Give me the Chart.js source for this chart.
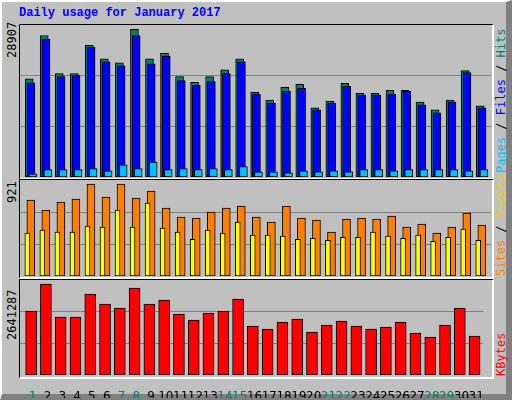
<!DOCTYPE html>
<html><head><meta charset="utf-8">
<script src="https://cdn.jsdelivr.net/npm/chart.js@4"></script>
<style>
body{margin:0;background:#c0c0c0;}
#wrap{position:relative;width:512px;height:400px;background:#c0c0c0;overflow:hidden;font-family:"DejaVu Sans Mono",monospace;}
#frame{position:absolute;left:0;top:0;width:504px;height:392px;border-left:2px solid #fff;border-top:2px solid #fff;border-right:6px solid #808080;border-bottom:6px solid #808080;box-sizing:border-box;width:512px;height:400px;}
.panel{position:absolute;left:19px;width:472px;border:1px solid #000;border-right:2px solid #fff;border-bottom:2px solid #fff;box-sizing:content-box;}
canvas{position:absolute;}
.vl{position:absolute;transform-origin:0 0;transform:rotate(-90deg);white-space:nowrap;font-size:12px;}
#title{position:absolute;left:19px;top:6px;font:bold 12px "Liberation Mono","DejaVu Sans Mono",monospace;color:#0000ff;}
</style></head><body>
<div id="wrap">
<div id="frame"></div>
<div id="title">Daily usage for January 2017</div>
<div class="panel" style="top:24px;height:153px"></div>
<div class="panel" style="top:179px;height:97px"></div>
<div class="panel" style="top:279px;height:97px"></div>
<canvas id="c1" width="471" height="152" style="left:20px;top:25px"></canvas>
<canvas id="c2" width="471" height="96" style="left:20px;top:180px"></canvas>
<canvas id="c3" width="471" height="118" style="left:20px;top:280px"></canvas>
<div class="vl" style="left:5px;top:58px">28907</div>
<div class="vl" style="left:5px;top:203px">921</div>
<div class="vl" style="left:5px;top:340px">2641287</div>
<div class="vl" style="left:494px;top:173px"><span style="color:#00c0ff">Pages</span> / <span style="color:#0000ff">Files</span> / <span style="color:#008060">Hits</span></div>
<div class="vl" style="left:494px;top:276px"><span style="color:#ff8000">Sites</span> / <span style="color:#e8d000">Visits</span></div>
<div class="vl" style="left:494px;top:376px"><span style="color:#ff0000">KBytes</span></div>
</div>
<script>
const days=[1,2,3,4,5,6,7,8,9,10,11,12,13,14,15,16,17,18,19,20,21,22,23,24,25,26,27,28,29,30,31];
const weekend=[1,7,8,14,15,21,22,28,29];
const hits=[19200,27700,20240,20240,25790,23110,22340,28907,23110,24250,19660,18510,19660,20990,23110,16600,15070,17550,18130,13530,14870,18320,16400,16400,16980,16980,14680,13150,15070,20810,13920];
const files=[18440,26930,19660,19850,25400,22530,21770,27700,22150,23680,18890,17940,18700,20240,22530,16210,14490,16790,17360,13150,14490,17750,16020,16020,16210,16790,14110,12580,14680,20430,13530];
const pages=[630,1470,1470,1470,1660,1200,2360,1660,2930,1470,1660,1470,1660,1470,2050,1020,1020,830,1200,1020,1200,1020,1470,1470,1200,1470,1470,1470,1470,1200,1470];
const visits=[760,660,740,770,921,790,921,780,851,680,589,579,640,680,700,589,539,700,579,559,439,569,579,569,600,489,519,429,489,630,509];
const sites=[429,459,439,439,499,489,660,489,730,479,439,368,459,429,539,409,409,399,368,378,358,388,388,439,399,378,409,348,388,469,358];
const kbytes=[1857600,2641287,1683000,1683000,2351000,2061000,1945000,2525000,2061000,2177000,1771000,1596000,1800000,1857600,2206000,1422000,1335000,1538000,1625000,1248000,1451000,1567000,1422000,1335000,1393000,1538000,1219000,1103000,1451000,1945000,1132000];

const pts=a=>days.map((d,i)=>({x:d,y:a[i]}));
const hx=(min,max,extra)=>Object.assign({type:'linear',min,max,display:false,offset:false},extra||{});
function yax(max){return{min:0,max,display:true,border:{display:false},ticks:{display:false},
  grid:{color:'#808080',lineWidth:1,drawTicks:false},
  afterBuildTicks:s=>{s.ticks=[{value:max/3},{value:2*max/3}];},afterFit:s=>{s.width=0;}};}
const base={responsive:false,animation:false,devicePixelRatio:1,layout:{padding:0},
  plugins:{legend:{display:false},tooltip:{enabled:false}}};
const ds=(data,color,ax,w,order)=>({data:pts(data),backgroundColor:color,borderColor:'#000',borderWidth:1,
  xAxisID:ax,barThickness:w,grouped:false,order,borderSkipped:false});

new Chart(document.getElementById('c1'),{type:'bar',data:{datasets:[
  ds(hits,'#008060','xa',8,2),ds(files,'#0000ff','xb',8,1),ds(pages,'#00c0ff','xc',8,0)]},
  options:Object.assign({},base,{scales:{xa:hx(0.387,31.72),xb:hx(0.273,31.60),xc:hx(0.14,31.47),y:yax(29750)}})});

new Chart(document.getElementById('c2'),{type:'bar',data:{datasets:[
  ds(sites,'#ffff00','xa',5,0),ds(visits,'#ff8000','xb',8,1)]},
  options:Object.assign({},base,{scales:{xa:hx(0.513,31.85),xb:hx(0.28,31.61),y:yax(961)}})});

new Chart(document.getElementById('c3'),{type:'bar',data:{datasets:[
  ds(kbytes,'#ff0000','xa',11,0)]},
  options:Object.assign({},base,{scales:{
    xa:hx(0.247,31.58),
    xl:{type:'linear',position:'bottom',min:0.133,max:31.467,offset:false,border:{display:false},grid:{display:false},
      afterBuildTicks:s=>{s.ticks=days.map(v=>({value:v}));},
      afterFit:s=>{s.height=23;},
      ticks:{autoSkip:false,maxRotation:0,padding:7,font:{family:'DejaVu Sans',size:12},
        color:c=>weekend.includes(c.tick.value)?'#008060':'#000',callback:v=>String(v)}},
    y:yax(2757000)}})});
</script>
</body></html>
